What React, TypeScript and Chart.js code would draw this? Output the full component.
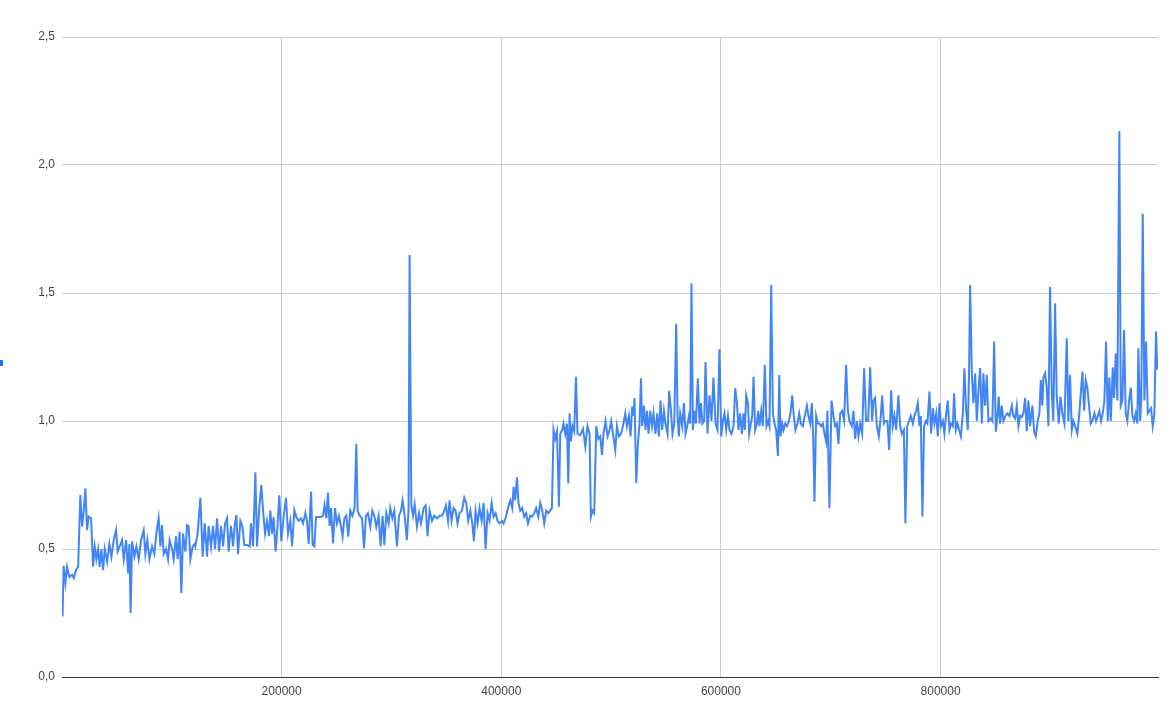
import React, { useEffect, useRef } from "react";
import { Chart, registerables } from "chart.js";

Chart.register(...registerables);

// x positions (raw units) and values, split into consecutive stretches of the series
const xA = [500, 1500, 3100, 4600, 6700, 9200, 10700, 12800, 14700, 16700, 18300, 19800, 21300, 22800, 24300, 26500, 28300, 29800, 31300, 32900, 34300, 35900, 37400, 38900, 41100, 43100, 45000, 47100, 49200, 50700, 52500, 54700, 56200, 58400, 60200, 61400, 62500, 63800, 65900, 67700, 69800, 72000, 74400, 75900, 77700, 79600, 82000, 84100, 85900, 88000, 89600, 91100, 92600, 94800, 96600, 98000, 100200, 101700, 103900, 105300, 107100, 108700, 110200, 112300, 113900, 115300, 116900, 119000, 120800];
const yA = [0.236, 0.434, 0.367, 0.43, 0.39, 0.4, 0.386, 0.418, 0.43, 0.711, 0.587, 0.65, 0.737, 0.574, 0.626, 0.62, 0.431, 0.509, 0.46, 0.5, 0.43, 0.5, 0.418, 0.5, 0.45, 0.52, 0.47, 0.535, 0.574, 0.49, 0.51, 0.535, 0.46, 0.535, 0.405, 0.52, 0.25, 0.53, 0.47, 0.51, 0.46, 0.535, 0.574, 0.48, 0.535, 0.46, 0.51, 0.48, 0.56, 0.62, 0.51, 0.594, 0.48, 0.5, 0.46, 0.535, 0.5, 0.46, 0.55, 0.46, 0.567, 0.328, 0.56, 0.49, 0.594, 0.59, 0.46, 0.51, 0.52];

const xB = [121400, 123500, 126000, 128100, 129900, 132100, 133500, 135700, 137500, 139400, 141200, 143000, 144800, 146700, 148500, 150300, 151700, 153900, 155800, 157200, 158800, 160300, 162400, 164200, 166000, 168500, 170900, 172100, 174000, 176100, 177600, 179700, 181500, 183100, 184900, 186700, 188500, 189700, 191300, 192700, 194500, 195800, 197900, 199700, 201800, 204000, 205800, 207900, 209500, 211600, 213400, 215500, 217700, 219500, 221600, 223100, 224600, 226800, 228200, 229800, 231300, 233700, 235900, 237700, 239100, 240700, 242200, 243700];
const yB = [0.51, 0.56, 0.7, 0.47, 0.6, 0.47, 0.59, 0.509, 0.59, 0.5, 0.62, 0.49, 0.59, 0.51, 0.6, 0.62, 0.49, 0.59, 0.51, 0.59, 0.633, 0.48, 0.61, 0.59, 0.516, 0.516, 0.51, 0.6, 0.51, 0.8, 0.51, 0.665, 0.75, 0.65, 0.56, 0.61, 0.55, 0.65, 0.56, 0.625, 0.49, 0.56, 0.71, 0.53, 0.625, 0.7, 0.56, 0.61, 0.51, 0.652, 0.625, 0.61, 0.62, 0.6, 0.64, 0.61, 0.52, 0.724, 0.516, 0.51, 0.625, 0.625, 0.625, 0.63, 0.672, 0.62, 0.72, 0.59];

const xC = [245000, 246800, 248600, 250400, 252200, 254100, 255500, 257100, 258900, 260700, 262500, 264400, 266400, 268000, 269200, 271000, 273200, 275000, 276800, 278600, 280700, 282600, 284400, 286200, 288300, 290100, 291900, 293500, 295300, 297400, 298900, 300800, 302600, 305000, 306900, 308700, 310100, 312000, 314100, 315600, 316500, 318100, 319600, 321100, 323200, 325100, 326900, 329300, 331100, 332900, 334700, 336900, 339000, 341500, 343800, 346000, 348100, 349600, 351500, 352900, 354700, 356600, 358400, 360200, 362000];
const yC = [0.66, 0.522, 0.66, 0.6, 0.63, 0.587, 0.548, 0.62, 0.63, 0.548, 0.65, 0.63, 0.66, 0.91, 0.65, 0.63, 0.62, 0.503, 0.63, 0.64, 0.587, 0.65, 0.63, 0.587, 0.63, 0.51, 0.63, 0.515, 0.64, 0.6, 0.66, 0.62, 0.65, 0.51, 0.63, 0.65, 0.69, 0.63, 0.535, 0.66, 1.648, 0.67, 0.63, 0.675, 0.587, 0.64, 0.6, 0.66, 0.67, 0.55, 0.65, 0.61, 0.63, 0.62, 0.63, 0.63, 0.65, 0.67, 0.61, 0.69, 0.61, 0.66, 0.65, 0.6, 0.64];

const xD = [364200, 366300, 368100, 369900, 371800, 373600, 375100, 376600, 378400, 380200, 382100, 383900, 385700, 387500, 389300, 391200, 393000, 394800, 396600, 398400, 400600, 402100, 404300, 406100, 408200, 410000, 411200, 412700, 414300, 415700, 417300, 419100, 420900, 422700, 424300, 426400, 428200, 430000, 431800, 433700, 435500, 437300, 439100, 440900, 442800, 444600, 446100, 447600, 449100, 450700, 452500, 453700, 455500, 456700, 458200, 459800, 461000, 462200, 463400, 464900, 466400, 468000, 469400, 471900, 474400, 476500, 478500, 480400];
const yD = [0.65, 0.7, 0.68, 0.61, 0.65, 0.6, 0.53, 0.65, 0.6, 0.66, 0.61, 0.68, 0.5, 0.64, 0.61, 0.68, 0.626, 0.64, 0.61, 0.6, 0.61, 0.6, 0.626, 0.66, 0.69, 0.66, 0.743, 0.69, 0.78, 0.68, 0.65, 0.66, 0.626, 0.64, 0.6, 0.63, 0.626, 0.64, 0.66, 0.626, 0.68, 0.65, 0.6, 0.65, 0.64, 0.65, 0.66, 0.965, 0.93, 0.96, 0.665, 0.95, 0.965, 0.99, 0.95, 0.99, 0.757, 1.03, 0.92, 0.98, 0.96, 1.173, 0.95, 0.945, 0.97, 0.9, 0.98, 0.95];

const xE = [481600, 483100, 484600, 486500, 488300, 490100, 491700, 493100, 494900, 496800, 498600, 500100, 501700, 503800, 505300, 507100, 509000, 510800, 512900, 514400, 516200, 517700, 519200, 520400, 521300, 522900, 524400, 525900, 527200, 528300, 529900, 531300, 532600, 534100, 535600, 537200, 538600, 540400, 542000, 543500, 545000, 546500, 548100, 549500, 551400, 552900, 554500, 555900, 557500, 559300, 560500, 561700, 562900, 564800, 566300, 567800, 569300, 570900, 572000, 573200, 574500, 575700, 577200, 579000, 580500, 581800, 583200, 584800, 586000, 587800, 589600, 591400, 593200, 595100, 596900, 598700];
const yE = [0.626, 0.65, 0.64, 0.98, 0.93, 0.94, 0.867, 0.95, 1.0, 0.94, 0.965, 1.0, 0.95, 0.887, 0.98, 0.94, 0.95, 0.98, 1.03, 0.98, 1.02, 0.94, 1.056, 1.02, 1.09, 0.757, 0.91, 0.99, 1.167, 0.98, 1.06, 0.965, 1.04, 0.95, 1.04, 0.98, 1.03, 0.95, 1.03, 0.94, 1.08, 0.965, 1.04, 0.99, 0.95, 1.118, 1.04, 0.95, 0.99, 1.38, 1.02, 0.94, 1.03, 0.98, 1.07, 0.95, 0.98, 1.02, 0.99, 1.538, 0.965, 1.04, 0.99, 1.167, 0.99, 1.07, 0.99, 1.0, 1.23, 0.95, 1.1, 1.0, 1.17, 0.99, 0.965, 1.28];

const xF = [600300, 601800, 603300, 604800, 606400, 607800, 609600, 611500, 613000, 614600, 616000, 617500, 619100, 620600, 621800, 623000, 624600, 625700, 627300, 628500, 629700, 631200, 632800, 633900, 635100, 636700, 638200, 640000, 641500, 643000, 644200, 645800, 647300, 648800, 650300, 651900, 653100, 654200, 655800, 657000, 658500, 660100, 661900, 663300, 664900, 666400, 667900, 669700, 671300, 672800, 674600, 676400, 678300, 679700, 681300, 682800, 684000, 685200, 686700, 688300, 689700, 691300, 692800, 694300, 695800, 697000, 698800, 700700, 702500, 704000, 705600, 707000, 708600, 710400, 712200, 714000, 715600, 717000];
const yF = [0.94, 1.0, 1.03, 0.965, 1.02, 0.965, 0.95, 0.98, 1.128, 1.07, 0.965, 1.03, 0.95, 1.03, 0.965, 1.1, 1.07, 0.95, 0.99, 1.02, 1.173, 0.965, 0.99, 1.04, 0.98, 1.04, 0.98, 1.219, 0.98, 1.0, 0.98, 1.531, 1.03, 0.99, 0.965, 0.863, 1.18, 0.94, 0.99, 0.965, 0.99, 0.98, 1.0, 1.03, 1.1, 1.02, 0.965, 0.99, 1.03, 0.99, 0.98, 1.02, 1.06, 1.02, 0.99, 1.07, 0.94, 0.685, 1.02, 0.99, 0.99, 0.98, 0.99, 0.95, 0.92, 1.04, 0.659, 1.08, 1.02, 0.98, 0.99, 0.91, 1.03, 1.04, 1.0, 1.22, 1.04, 1.0];

const xG = [719200, 720700, 722200, 723800, 725200, 726800, 728600, 730400, 732200, 734100, 735900, 737700, 738900, 740400, 742000, 743800, 745600, 746800, 748400, 749800, 751600, 753200, 755000, 756500, 758000, 759600, 761600, 763200, 764700, 766600, 768000, 769600, 771400, 772900, 774800, 776200, 777800, 779300, 780800, 782000, 783500, 785000, 786600, 788000, 789900, 791400, 793000, 794400, 796000, 797500, 799000, 800500, 802100, 803500, 805100, 806600, 808100, 809600, 811200, 812300, 813900, 815400, 816900, 818500, 820300, 821700, 823300, 824800, 826000, 826900];
const yG = [0.98, 1.04, 0.93, 1.0, 0.94, 0.99, 0.95, 1.206, 1.0, 1.0, 1.21, 1.0, 1.08, 1.09, 0.98, 0.94, 1.02, 1.1, 0.99, 1.0, 1.0, 0.887, 1.12, 0.98, 1.02, 0.965, 1.1, 0.98, 0.95, 0.965, 0.6, 0.98, 1.0, 1.02, 0.99, 1.02, 1.04, 1.07, 0.98, 1.02, 0.626, 0.98, 1.0, 0.99, 1.115, 0.95, 1.05, 0.99, 1.03, 0.94, 1.07, 0.98, 1.0, 0.95, 1.03, 1.08, 0.965, 0.99, 0.98, 1.108, 0.965, 0.99, 0.965, 0.94, 1.03, 1.206, 1.04, 0.965, 1.2, 1.531];

const xH = [828500, 829900, 831500, 833000, 834500, 836000, 837600, 839000, 840600, 842100, 843600, 845800, 847200, 848800, 850300, 851800, 853000, 854200, 855800, 857200, 859100, 860900, 862700, 864900, 866300, 867900, 869400, 870900, 872400, 874000, 875400, 877000, 878500, 880000, 881500, 883600, 885200, 886700, 888500, 890000, 891300, 892700, 893600, 895200, 896700, 898200, 899700, 901300, 902700, 904300, 905800, 907700, 909100, 910900, 912800, 914900, 916400];
const yH = [1.186, 1.07, 1.186, 1.0, 1.12, 1.207, 0.99, 1.186, 1.06, 1.18, 1.0, 1.01, 1.0, 1.31, 0.958, 1.02, 1.095, 0.99, 1.06, 1.0, 1.02, 1.03, 1.02, 1.06, 1.02, 1.01, 1.06, 0.98, 1.02, 1.015, 1.03, 1.09, 0.96, 1.08, 0.98, 1.06, 0.958, 0.94, 1.0, 1.03, 1.16, 1.06, 1.17, 1.186, 1.13, 0.98, 1.524, 1.11, 1.0, 1.46, 1.095, 0.99, 1.095, 1.03, 0.99, 1.323, 1.0];

const xI = [917900, 919500, 920900, 922500, 924600, 926400, 927700, 929200, 930700, 932200, 933700, 935200, 936800, 938200, 940100, 941600, 943200, 944600, 946200, 947700, 949200, 950700, 952300, 953700, 955000, 956800, 958000, 959500, 961000, 962800, 964100, 965600, 967100, 968600, 970100, 971700, 973200, 974700, 976200, 977700, 979200, 980100, 981700, 982800, 984100, 985600, 987100, 988700, 990100, 991700, 993200, 994700, 996200, 997400];
const yI = [1.18, 0.965, 1.0, 0.98, 0.95, 1.03, 1.11, 1.193, 1.04, 1.16, 1.13, 1.06, 0.99, 1.0, 1.03, 1.0, 1.02, 1.04, 1.0, 1.03, 1.08, 1.31, 1.0, 1.17, 1.0, 1.21, 1.09, 1.264, 1.08, 2.133, 1.06, 1.08, 1.355, 1.03, 1.0, 1.08, 1.13, 1.02, 1.0, 1.03, 0.99, 1.284, 1.0, 1.08, 1.81, 1.08, 1.31, 1.03, 1.04, 1.05, 0.98, 1.03, 1.35, 1.2];

const xTickValues = [200000, 400000, 600000, 800000];
const yTickValues = [0, 0.5, 1.0, 1.5, 2.0, 2.5];

const segments: [number[], number[]][] = [
  [xA, yA], [xB, yB], [xC, yC], [xD, yD], [xE, yE], [xF, yF], [xG, yG], [xH, yH], [xI, yI],
];

const FONT = "Arial, 'Liberation Sans', sans-serif";

export default function App() {
  const canvasRef = useRef<HTMLCanvasElement | null>(null);

  useEffect(() => {
    if (!canvasRef.current) return;
    const points: { x: number; y: number }[] = [];
    segments.forEach(([xs, ys]) => {
      const n = Math.min(xs.length, ys.length);
      for (let i = 0; i < n; i++) points.push({ x: xs[i], y: ys[i] });
    });

    const chart = new Chart(canvasRef.current, {
      type: "line",
      data: {
        datasets: [
          {
            data: points,
            borderColor: "#4285F4",
            borderWidth: 2,
            pointRadius: 0,
            pointHoverRadius: 0,
            tension: 0,
            fill: false,
          },
        ],
      },
      options: {
        animation: false,
        responsive: true,
        maintainAspectRatio: false,
        layout: { padding: { top: 37, right: 16, bottom: 0, left: 0 } },
        plugins: { legend: { display: false }, tooltip: { enabled: false } },
        scales: {
          x: {
            type: "linear",
            min: 0,
            max: 998000,
            afterFit: (scale: any) => {
              scale.height = 49;
            },
            afterBuildTicks: (scale: any) => {
              scale.ticks = [0, ...xTickValues].map((v) => ({ value: v }));
            },
            ticks: {
              padding: 7,
              color: "#444444",
              font: { family: FONT, size: 12 },
              maxRotation: 0,
              callback: (v: any) => (xTickValues.includes(Number(v)) ? String(v) : ""),
            },
            grid: {
              drawTicks: false,
              color: (ctx: any) =>
                ctx.tick && xTickValues.includes(ctx.tick.value) ? "#cccccc" : "rgba(0,0,0,0)",
              lineWidth: 1,
            },
            border: { display: true, color: "#333333", width: 1 },
          },
          y: {
            type: "linear",
            min: 0,
            max: 2.5,
            afterFit: (scale: any) => {
              scale.width = 62;
            },
            afterBuildTicks: (scale: any) => {
              scale.ticks = yTickValues.map((v) => ({ value: v }));
            },
            ticks: {
              padding: 7,
              color: "#444444",
              font: { family: FONT, size: 12 },
              callback: (v: any) => Number(v).toFixed(1).replace(".", ","),
            },
            grid: {
              drawTicks: false,
              color: (ctx: any) => (ctx.tick && ctx.tick.value === 0 ? "#333333" : "#cccccc"),
              lineWidth: 1,
            },
            border: { display: false },
          },
        },
      },
    });
    return () => chart.destroy();
  }, []);

  return (
    <div
      style={{
        position: "absolute",
        left: 0,
        top: 0,
        width: 1174,
        height: 726,
        background: "#ffffff",
      }}
    >
      <canvas ref={canvasRef} />
      <div
        style={{
          position: "absolute",
          left: 0,
          top: 360,
          width: 3,
          height: 6,
          background: "#1a73e8",
        }}
      />
    </div>
  );
}
